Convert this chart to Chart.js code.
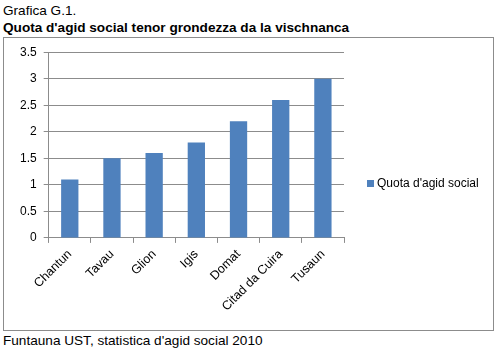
<!DOCTYPE html>
<html>
<head>
<meta charset="utf-8">
<script src="https://cdn.jsdelivr.net/npm/chart.js@4"></script>
<style>
  body { margin: 0; background: #fff; font-family: "Liberation Sans", Arial, sans-serif; }
  #wrap { position: relative; width: 500px; height: 352px; }
  .txt { position: absolute; left: 3px; font-size: 13.6px; color: #000; white-space: nowrap; }
  #box { position: absolute; left: 3px; top: 37px; width: 489px; height: 292px; border: 1px solid #8c8c8c; }
</style>
</head>
<body>
<div id="wrap">
  <div class="txt" style="top:3px;">Grafica G.1.</div>
  <div class="txt" style="top:20px; font-weight:bold;">Quota d'agid social tenor grondezza da la vischnanca</div>
  <div id="box"><canvas id="chart" width="489" height="292"></canvas></div>
  <div class="txt" style="top:333px;">Funtauna UST, statistica d'agid social 2010</div>
</div>
<script>
// dati
const vischnancas = ["Chantun", "Tavau", "Glion", "Igis", "Domat", "Citad da Cuira", "Tusaun"];
const quota = [1.1, 1.5, 1.6, 1.8, 2.2, 2.6, 3.0];
const serieNom = "Quota d'agid social";

const textColor = "#000000";
const gridColor = "#8c8c8c";
const barColor = "#4f81bd";
const chartFont = { family: "Liberation Sans", size: 12 };

// legenda a dretga (disegnada sez, la legenda da Chart.js taglia il text)
const legendaDretga = {
  id: "legendaDretga",
  afterDraw(chart) {
    const ctx = chart.ctx;
    const x = chart.chartArea.right + 23;
    const y = chart.height / 2;
    ctx.save();
    ctx.fillStyle = barColor;
    ctx.fillRect(x, y - 4, 7, 7);
    ctx.fillStyle = textColor;
    ctx.font = "12px 'Liberation Sans'";
    ctx.textBaseline = "middle";
    ctx.fillText(chart.data.datasets[0].label, x + 10, y);
    ctx.restore();
  },
};

new Chart(document.getElementById("chart").getContext("2d"), {
  type: "bar",
  data: {
    labels: vischnancas,
    datasets: [{
      label: serieNom,
      data: quota,
      backgroundColor: barColor,
      borderWidth: 0,
      categoryPercentage: 1,
      barPercentage: 0.41,
    }],
  },
  options: {
    responsive: false,
    animation: false,
    layout: { padding: { left: 9, top: 10, right: 149, bottom: 12 } },
    plugins: {
      legend: { display: false },
      tooltip: { enabled: false },
    },
    scales: {
      y: {
        min: 0,
        max: 3.5,
        ticks: {
          stepSize: 0.5,
          color: textColor,
          font: chartFont,
          padding: 7,
          callback: (v) => String(v),
        },
        grid: { color: gridColor, tickLength: 5 },
        border: { color: gridColor },
      },
      x: {
        offset: true,
        ticks: {
          color: textColor,
          font: { family: "Liberation Sans", size: 12.5 },
          minRotation: 45,
          maxRotation: 45,
          padding: 4,
        },
        grid: { offset: true, drawOnChartArea: false, color: gridColor, tickLength: 5 },
        border: { color: gridColor },
      },
    },
  },
  plugins: [legendaDretga],
});
</script>
</body>
</html>
